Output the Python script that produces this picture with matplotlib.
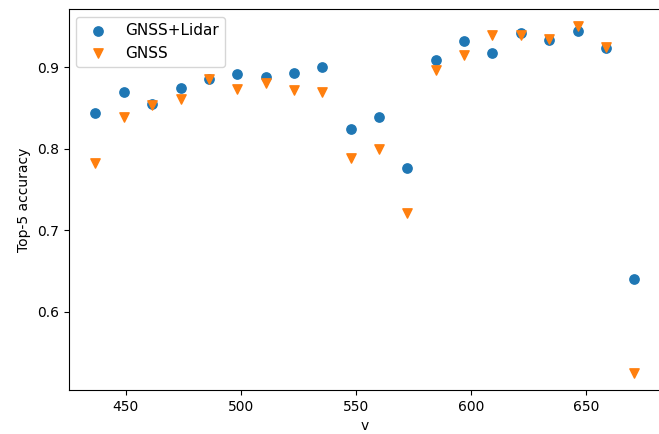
import matplotlib
matplotlib.use("Agg")
import matplotlib.pyplot as plt

v = [436.8, 449.1, 461.5, 473.8, 486.1, 498.5, 510.8, 523.1, 535.4, 547.8,
     560.1, 572.4, 584.8, 597.1, 609.4, 621.8, 634.1, 646.4, 658.7, 671.0]
gnss_lidar = [0.844, 0.869, 0.855, 0.874, 0.885, 0.892, 0.888, 0.893, 0.900, 0.824,
              0.839, 0.776, 0.909, 0.932, 0.918, 0.942, 0.933, 0.945, 0.924, 0.640]
gnss = [0.783, 0.839, 0.853, 0.861, 0.886, 0.873, 0.880, 0.872, 0.870, 0.788,
        0.800, 0.721, 0.897, 0.915, 0.939, 0.940, 0.934, 0.950, 0.925, 0.525]

fig = plt.figure(figsize=(6.59, 4.34), dpi=100)
ax = fig.add_axes([0.1040, 0.101, 0.8992, 0.878])
ax.scatter(v, gnss_lidar, s=45, marker='o', color='#1f77b4', label='GNSS+Lidar')
ax.scatter(v, gnss, s=45, marker='v', color='#ff7f0e', label='GNSS')
ax.set_xlabel('v')
ax.set_ylabel('Top-5 accuracy')
ax.legend(loc='upper left', fontsize=11)
fig.savefig('out.png', dpi=100)
